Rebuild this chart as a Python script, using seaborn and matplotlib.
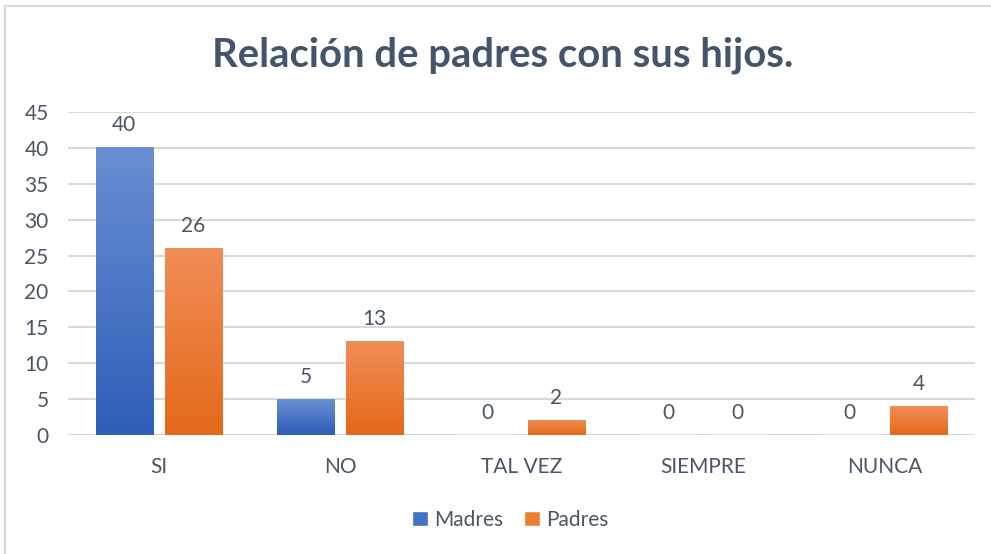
import numpy as np
import pandas as pd
import matplotlib
matplotlib.use("Agg")
import matplotlib.pyplot as plt
import seaborn as sns
from matplotlib.colors import LinearSegmentedColormap
from matplotlib.patches import Rectangle, Patch

categories = ["SI", "NO", "TAL VEZ", "SIEMPRE", "NUNCA"]
madres = [40, 5, 0, 0, 0]
padres = [26, 13, 2, 0, 4]
series_names = ["Madres", "Padres"]
title = "Relación de padres con sus hijos."

df = pd.DataFrame({
    "cat": categories * 2,
    "val": madres + padres,
    "serie": [series_names[0]] * len(categories) + [series_names[1]] * len(categories),
})

sns.set_theme(style="white")
plt.rcParams["font.family"] = ["Lato", "DejaVu Sans"]
txt = "#44546A"
lab = "#4B5563"
grid = "#D9D9D9"
blue = "#4472C4"
orange = "#ED7D31"
fs = 15

fig = plt.figure(figsize=(9.91, 5.54), dpi=100)
ax = fig.add_axes([0.0686, 0.2148, 0.9154, 0.583])

sns.barplot(data=df, x="cat", y="val", hue="serie", order=categories,
            hue_order=series_names, palette=[blue, orange], width=0.762,
            gap=0.173, ax=ax, legend=False, saturation=1)

ax.set_ylim(0, 45)
ax.set_xlim(-0.5, 4.5)
ax.set_yticks(range(0, 46, 5))
ax.grid(axis="y", color=grid, linewidth=1.5, zorder=0)
ax.set_axisbelow(True)
for s in ax.spines.values():
    s.set_visible(False)
ax.tick_params(axis="both", length=0, labelsize=fs, labelcolor=lab)
ax.tick_params(axis="y", pad=14)
ax.tick_params(axis="x", pad=16)
ax.set_xlabel("")
ax.set_ylabel("")

grads = {
    blue: LinearSegmentedColormap.from_list("b", ["#2E5EB8", "#6A8ED2"]),
    orange: LinearSegmentedColormap.from_list("o", ["#E4691A", "#F18D57"]),
}
g = np.linspace(0, 1, 256).reshape(-1, 1)
for i, cont in enumerate(ax.containers):
    cmap = grads[[blue, orange][i]]
    for p in cont:
        x0, y0 = p.get_x(), p.get_y()
        w, h = p.get_width(), p.get_height()
        if h > 0:
            ax.imshow(g, cmap=cmap, origin="lower", aspect="auto",
                      extent=[x0, x0 + w, y0, y0 + h], zorder=2)
    ax.bar_label(cont, labels=[f"{v:g}" for v in cont.datavalues],
                 padding=9, fontsize=fs, color=lab)
ax.set_xlim(-0.5, 4.5)
ax.set_ylim(0, 45)

fig.text(0.507, 0.9, title, ha="center", va="center", fontsize=28.8,
         fontweight="bold", color=txt)

handles = [Patch(facecolor=blue), Patch(facecolor=orange)]
fig.legend(handles, series_names, loc="center", bbox_to_anchor=(0.515, 0.062),
           ncol=2, frameon=False, fontsize=fs, handlelength=0.75,
           handleheight=0.75, handletextpad=0.3, columnspacing=1.0,
           labelcolor=lab)

fig.patches.append(Rectangle((5 / 991, -0.1), 1.2, 1 - 6 / 554 + 0.1,
                             transform=fig.transFigure, fill=False,
                             edgecolor=grid, linewidth=1.5))

fig.savefig("out.png", dpi=100, facecolor="white")
